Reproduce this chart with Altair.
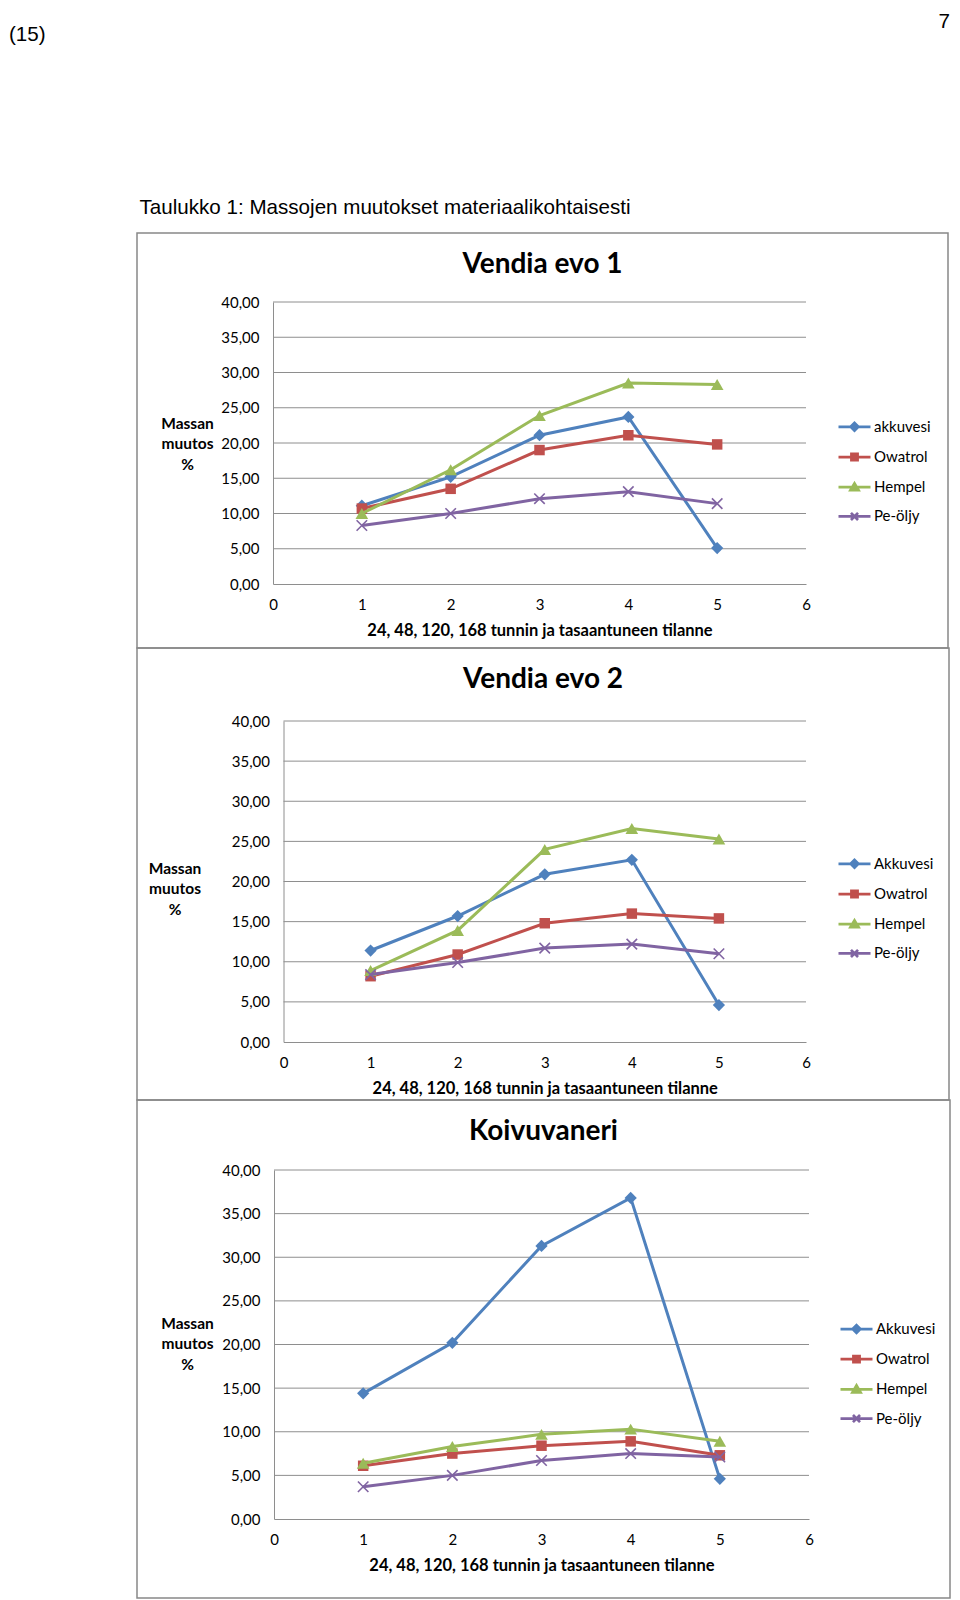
import altair as alt
import pandas as pd

FONT = "Lato"
HEAD_FONT = "Liberation Sans"
GRID = "#8e8e8e"
BOX = "#888888"

# ---------------- data ----------------
steps = [1, 2, 3, 4, 5]
x_ticks = [0, 1, 2, 3, 4, 5, 6]
y_ticks = [0, 5, 10, 15, 20, 25, 30, 35, 40]
grid_levels = [5, 10, 15, 20, 25, 30, 35, 40]

names_evo1 = ["akkuvesi", "Owatrol", "Hempel", "Pe-öljy"]
names_evo2 = ["Akkuvesi", "Owatrol", "Hempel", "Pe-öljy"]
names_koivu = ["Akkuvesi", "Owatrol", "Hempel", "Pe-öljy"]

evo1_akkuvesi = [11.1, 15.2, 21.1, 23.7, 5.1]
evo1_owatrol = [10.7, 13.5, 19.0, 21.1, 19.8]
evo1_hempel = [10.0, 16.2, 23.9, 28.5, 28.3]
evo1_peoljy = [8.3, 10.0, 12.1, 13.1, 11.4]

evo2_akkuvesi = [11.4, 15.7, 20.9, 22.7, 4.6]
evo2_owatrol = [8.2, 10.9, 14.8, 16.0, 15.4]
evo2_hempel = [8.9, 13.9, 24.0, 26.6, 25.3]
evo2_peoljy = [8.4, 9.9, 11.7, 12.2, 11.0]

koivu_akkuvesi = [14.4, 20.2, 31.3, 36.8, 4.6]
koivu_owatrol = [6.1, 7.5, 8.4, 8.9, 7.3]
koivu_hempel = [6.4, 8.3, 9.7, 10.3, 8.9]
koivu_peoljy = [3.7, 5.0, 6.7, 7.5, 7.1]

page_texts = ["(15)", "7", "Taulukko 1: Massojen muutokset materiaalikohtaisesti"]
titles = ["Vendia evo 1", "Vendia evo 2", "Koivuvaneri"]
x_title = "24, 48, 120, 168 tunnin ja tasaantuneen tilanne"
y_title = ["Massan", "muutos", "%"]

# ---------------- styles ----------------
colors = ["#4F81BD", "#C0504D", "#9BBB59", "#8064A2"]
marker_shapes = ["diamond", "square", "triangle-up", "M-1,-1L1,1M-1,1L1,-1"]
marker_filled = [True, True, True, False]
marker_sizes = [150, 110, 160, 110]
marker_strokes = [1, 1, 1, 1.6]
legend_shapes = [
    "M-1,0H1M0,-0.24L0.24,0L0,0.24L-0.24,0Z",
    "M-1,0H1M-0.19,-0.19H0.19V0.19H-0.19Z",
    "M-1,0H1M0,-0.24L0.25,0.18H-0.25Z",
    "M-1,0H1M-0.22,-0.22L0.22,0.22M-0.22,0.22L0.22,-0.22",
]


def panel(title, names, series_values, box_w, box_h, plot, ytitle_pos, legend_pos, extra=None):
    pl, pr, pt, pb = plot
    rows = []
    for n, vals in zip(names, series_values):
        for s, v in zip(steps, vals):
            rows.append({"vaihe": s, "muutos": v, "sarja": n})
    df = pd.DataFrame(rows)

    xs = alt.Scale(domain=[0, 6], range=[pl, pr], nice=False, zero=False)
    ys = alt.Scale(domain=[0, 40], range=[pb, pt], nice=False)
    xaxis = alt.Axis(
        values=x_ticks, grid=False, ticks=False, tickSize=0,
        domainColor=GRID, domainWidth=1,
        labelFont=FONT, labelFontSize=15, labelColor="black", labelPadding=13,
        labelFlush=False, labelOverlap=False, offset=-(box_h - pb),
        title=x_title, titleFont=FONT, titleFontSize=16.5, titleFontWeight="bold",
        titleColor="black", titleX=(pl + pr) / 2, titleY=46,
        titleAlign="center", titleBaseline="middle",
    )
    yaxis = alt.Axis(
        values=y_ticks, grid=False, ticks=False, tickSize=0,
        domainColor=GRID, domainWidth=1,
        labelFont=FONT, labelFontSize=15, labelColor="black", labelPadding=14,
        labelFlush=False, labelOverlap=False,
        labelExpr="replace(format(datum.value, '.2f'), '.', ',')",
        offset=-pl,
        title=y_title, titleFont=FONT, titleFontSize=15.5, titleFontWeight="bold",
        titleColor="black", titleAngle=0, titleX=ytitle_pos[0] - pl, titleY=ytitle_pos[1],
        titleAlign="center", titleBaseline="middle", titleLineHeight=20.5,
    )
    X = alt.X("vaihe:Q", scale=xs, axis=xaxis)
    Y = alt.Y("muutos:Q", scale=ys, axis=yaxis)

    layers = []
    layers.append(
        alt.Chart(pd.DataFrame({"muutos": grid_levels}))
        .mark_rule(color=GRID, strokeWidth=1)
        .encode(y=Y, x=alt.value(pl), x2=alt.value(pr))
    )
    base = alt.Chart(df)
    for i, n in enumerate(names):
        sub = base.transform_filter(alt.datum.sarja == n)
        layers.append(sub.mark_line(strokeWidth=3, color=colors[i]).encode(x=X, y=Y))
        layers.append(
            sub.mark_point(
                shape=marker_shapes[i], filled=marker_filled[i], size=marker_sizes[i],
                opacity=1, strokeWidth=marker_strokes[i], color=colors[i],
            ).encode(x=X, y=Y)
        )

    leg = alt.Legend(
        title=None, orient="none", legendX=legend_pos[0], legendY=legend_pos[1],
        symbolSize=1024, symbolStrokeWidth=2.75, symbolOpacity=1,
        labelFont=FONT, labelFontSize=15, labelColor="black", labelOffset=2,
        rowPadding=3.2, padding=0,
    )
    fill_enc = alt.Fill("sarja:N", scale=alt.Scale(domain=names, range=colors), legend=leg)
    stroke_enc = alt.Stroke("sarja:N", scale=alt.Scale(domain=names, range=colors), legend=leg)
    shape_enc = alt.Shape("sarja:N", scale=alt.Scale(domain=names, range=legend_shapes), legend=leg)
    # legend-only layer: no marks drawn, the legend comes from the explicit scale domains
    layers.append(
        base.transform_filter("false")
        .mark_point(filled=True, opacity=1, strokeWidth=2.75)
        .encode(x=X, y=Y, fill=fill_enc, stroke=stroke_enc, shape=shape_enc)
    )
    layers.append(
        alt.Chart(pd.DataFrame({"otsikko": [title]}))
        .mark_text(font=FONT, fontSize=28, fontWeight="bold", color="black",
                   align="center", baseline="alphabetic")
        .encode(x=alt.value(box_w / 2), y=alt.value(40), text="otsikko:N")
    )
    if extra:
        layers += extra
    return alt.layer(*layers).properties(width=box_w, height=box_h)


def head_text(txt, x, y, align):
    return (
        alt.Chart(pd.DataFrame({"teksti": [txt]}))
        .mark_text(font=HEAD_FONT, fontSize=20.6, color="black", align=align, baseline="alphabetic")
        .encode(x=alt.value(x), y=alt.value(y), text="teksti:N")
    )


header = [
    head_text(page_texts[0], -128, -192, "left"),
    head_text(page_texts[1], 813, -205, "right"),
    head_text(page_texts[2], 2.5, -19, "left"),
]

p1 = panel(titles[0], names_evo1,
           [evo1_akkuvesi, evo1_owatrol, evo1_hempel, evo1_peoljy],
           811, 415, (136, 669, 69, 351), (50, 190), (700, 176.3), extra=header)
p2 = panel(titles[1], names_evo2,
           [evo2_akkuvesi, evo2_owatrol, evo2_hempel, evo2_peoljy],
           812, 452, (146.5, 669, 73, 394), (37.5, 220), (700, 198.3))
p3 = panel(titles[2], names_koivu,
           [koivu_akkuvesi, koivu_owatrol, koivu_hempel, koivu_peoljy],
           813, 498, (137, 672, 70, 419), (50, 223), (702, 211.5))

chart = (
    alt.vconcat(p1, p2, p3, spacing=0, bounds="flush")
    .resolve_scale(fill="independent", stroke="independent", shape="independent")
    .properties(padding={"left": 0, "top": 3, "right": 0, "bottom": 0}, background="white")
    .configure_view(stroke=BOX, strokeWidth=1.5)
)

chart.save("out.html", embed_options={"renderer": "svg", "actions": False})
